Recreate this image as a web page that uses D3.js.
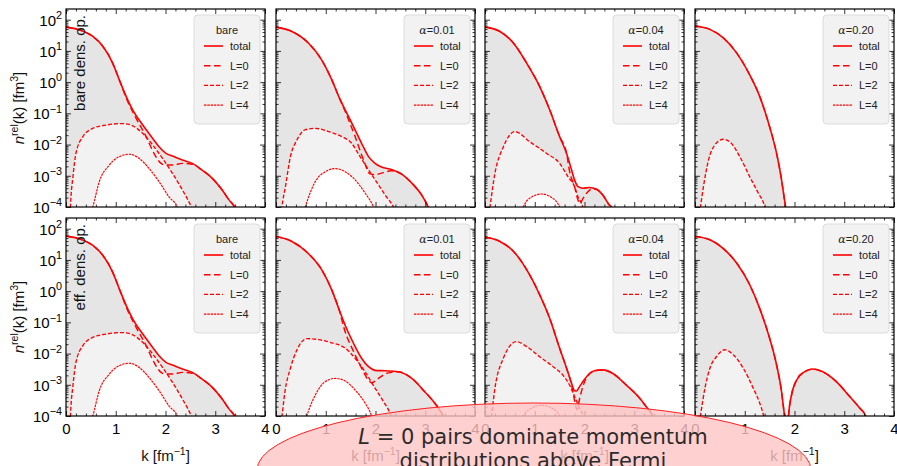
<!DOCTYPE html>
<html>
<head>
<meta charset="utf-8">
<script src="https://cdn.jsdelivr.net/npm/d3@7"></script>
<style>
  html, body { margin: 0; padding: 0; background: #fff; }
  svg { display: block; font-family: "Liberation Sans", Arial, Helvetica, sans-serif; }
</style>
</head>
<body>
<svg id="chart" width="897" height="466"></svg>
<script>
// ---- axis / label content -------------------------------------------------
const kTicks = [0, 1, 2, 3, 4];
const kMinor = d3.range(0, 4.001, 0.2);
const decadeExps = [-4, -3, -2, -1, 0, 1, 2];
const alphaValues = ["0.01", "0.04", "0.20"];
const seriesLabels = ["total", "L=0", "L=2", "L=4"];
const rowTags = ["bare dens. op.", "eff. dens. op."];
const note = ["= 0 pairs dominate momentum", "distributions above Fermi"];

// ---- relative-momentum distributions, [k (fm^-1), n(k) (fm^3)] ----------
// bare interaction (same in both rows)
const bareTotal = [[0,58],[0.27,47],[0.54,29],[0.74,14],[0.94,4.0],[1.07,1.2],[1.24,0.27],[1.34,0.13],[1.54,0.043],[1.74,0.016],[1.87,0.0085],[2.01,0.0052],[2.14,0.0043],[2.34,0.0032],[2.54,0.0025],[2.74,0.0015],[2.94,0.00083],[3.14,0.00035],[3.28,0.000166],[3.38,0.000107],[3.45,0.00006]];
const bareL0 = [[0,58],[0.27,47],[0.54,29],[0.74,14],[0.94,4.0],[1.07,1.2],[1.24,0.24],[1.41,0.069],[1.61,0.018],[1.77,0.0052],[1.91,0.0025],[2.01,0.0022],[2.14,0.0022],[2.34,0.0025],[2.51,0.0024],[2.74,0.0015],[2.94,0.00083],[3.14,0.00035],[3.28,0.000166],[3.38,0.000107],[3.45,0.00006]];
const bareL2 = [[0.085,0.00006],[0.09,0.0001],[0.14,0.00093],[0.20,0.0052],[0.34,0.018],[0.54,0.033],[0.80,0.042],[1.14,0.047],[1.34,0.040],[1.54,0.023],[1.74,0.0098],[1.94,0.0036],[2.14,0.0012],[2.34,0.00035],[2.52,0.0001],[2.58,0.00006]];
const bareL4 = [[0.50,0.00006],[0.54,0.0001],[0.67,0.00065],[0.87,0.0022],[1.07,0.0041],[1.27,0.0049],[1.47,0.0036],[1.67,0.0017],[1.87,0.00065],[2.07,0.00021],[2.24,0.0001],[2.28,0.00007]];

// evolved interaction, bare density operator
const a01Total = [[0,58],[0.32,42],[0.65,18],[0.92,5.1],[1.12,1.2],[1.26,0.35],[1.39,0.13],[1.56,0.037],[1.72,0.011],[1.86,0.0041],[1.99,0.0025],[2.12,0.0019],[2.32,0.0016],[2.52,0.00115],[2.73,0.00058],[2.93,0.00024],[3.06,0.0001],[3.12,0.00006]];
const a01L0 = [[0,58],[0.32,42],[0.65,18],[0.92,5.1],[1.12,1.2],[1.26,0.35],[1.42,0.089],[1.59,0.018],[1.76,0.0032],[1.89,0.00115],[1.99,0.0011],[2.16,0.00126],[2.32,0.00145],[2.52,0.00115],[2.73,0.00058],[2.93,0.00024],[3.06,0.0001],[3.12,0.00006]];
const a01L2 = [[0.10,0.00005],[0.12,0.0001],[0.19,0.00045],[0.29,0.0041],[0.42,0.014],[0.59,0.030],[0.79,0.033],[1.06,0.026],[1.32,0.018],[1.52,0.011],[1.69,0.0041],[1.86,0.00155],[2.06,0.00051],[2.22,0.00021],[2.36,0.0001],[2.40,0.00007]];
const a01L4 = [[0.55,0.00006],[0.59,0.0001],[0.79,0.00065],[0.99,0.00135],[1.19,0.0017],[1.39,0.00135],[1.59,0.00074],[1.79,0.00028],[1.96,0.0001],[2.00,0.00007]];

const a04Total = [[0,58],[0.30,42],[0.57,18],[0.84,4.0],[1.10,0.72],[1.30,0.13],[1.50,0.018],[1.64,0.0052],[1.74,0.00155],[1.80,0.00074],[1.87,0.00045],[1.97,0.0004],[2.10,0.00042],[2.24,0.00037],[2.37,0.00024],[2.50,0.000115],[2.54,0.0001],[2.58,0.00006]];
const a04L0 = [[0,58],[0.30,42],[0.57,18],[0.84,4.0],[1.10,0.72],[1.30,0.13],[1.50,0.018],[1.64,0.0052],[1.70,0.0014],[1.80,0.00045],[1.87,0.000166],[1.91,0.00013],[1.97,0.00019],[2.07,0.00031],[2.15,0.00038],[2.24,0.00037],[2.37,0.00024],[2.50,0.000115],[2.54,0.0001],[2.58,0.00006]];
const a04L2 = [[0.08,0.00006],[0.10,0.0001],[0.20,0.0012],[0.37,0.0085],[0.60,0.026],[0.90,0.0123],[1.24,0.0052],[1.50,0.0025],[1.67,0.00093],[1.80,0.00045],[1.87,0.00021],[1.94,0.00013],[1.98,0.00008]];
const a04L4 = [[0.74,0.00006],[0.77,0.0001],[0.94,0.00021],[1.14,0.00026],[1.34,0.0002],[1.50,0.0001],[1.53,0.00006]];

const a20Total = [[0,63],[0.30,49],[0.57,26],[0.84,8.5],[1.10,1.7],[1.30,0.35],[1.50,0.037],[1.64,0.0052],[1.74,0.00074],[1.79,0.00021],[1.82,0.0001],[1.84,0.00005]];
const a20L0 = [[0,63],[0.30,49],[0.57,26],[0.84,8.5],[1.10,1.7],[1.30,0.35],[1.50,0.037],[1.64,0.0052],[1.74,0.00074],[1.79,0.00021],[1.82,0.0001],[1.84,0.00005]];
const a20L2 = [[0.09,0.00006],[0.11,0.0001],[0.17,0.00045],[0.27,0.0031],[0.40,0.0098],[0.57,0.0148],[0.73,0.011],[0.90,0.0041],[1.10,0.00093],[1.27,0.00028],[1.40,0.0001],[1.43,0.00006]];
const a20L4 = [];

// evolved interaction, consistently evolved density operator
const effA01Total = [[0,56],[0.32,39],[0.65,16],[0.92,4.8],[1.12,1.1],[1.26,0.28],[1.39,0.081],[1.56,0.021],[1.72,0.0071],[1.86,0.0038],[1.99,0.0029],[2.19,0.0028],[2.46,0.0026],[2.73,0.0016],[2.99,0.0006],[3.19,0.00026],[3.29,0.000155],[3.36,0.0001],[3.42,0.00006]];
const effA01L0 = [[0,56],[0.32,39],[0.65,16],[0.92,4.8],[1.12,1.1],[1.26,0.28],[1.39,0.05],[1.56,0.0115],[1.72,0.0034],[1.86,0.0014],[1.92,0.00117],[2.06,0.0016],[2.19,0.0022],[2.32,0.0025],[2.46,0.0026],[2.73,0.0016],[2.99,0.0006],[3.19,0.00026],[3.29,0.000155],[3.36,0.0001],[3.42,0.00006]];
const effA01L2 = [[0.10,0.00006],[0.12,0.0001],[0.18,0.0006],[0.29,0.0034],[0.42,0.013],[0.62,0.030],[0.86,0.028],[1.12,0.022],[1.39,0.015],[1.59,0.0071],[1.79,0.0026],[1.99,0.00078],[2.16,0.00029],[2.31,0.0001],[2.35,0.00006]];
const effA01L4 = [[0.58,0.00006],[0.62,0.0001],[0.79,0.00047],[0.99,0.00126],[1.19,0.0016],[1.39,0.00132],[1.59,0.00068],[1.79,0.00026],[1.92,0.0001],[1.96,0.00006]];

const effA04Total = [[0,54],[0.30,39],[0.57,19],[0.84,4.8],[1.10,0.76],[1.30,0.135],[1.50,0.0148],[1.64,0.0034],[1.74,0.00112],[1.79,0.00068],[1.84,0.00063],[1.90,0.00087],[2.04,0.0018],[2.20,0.0028],[2.37,0.0030],[2.57,0.0023],[2.84,0.00098],[3.11,0.00037],[3.24,0.0002],[3.36,0.000107],[3.42,0.00006]];
const effA04L0 = [[0,54],[0.30,39],[0.57,19],[0.84,4.8],[1.10,0.76],[1.30,0.135],[1.50,0.0148],[1.64,0.0034],[1.74,0.001],[1.80,0.00032],[1.85,0.00016],[1.90,0.00035],[1.97,0.0009],[2.04,0.0017],[2.20,0.0028],[2.37,0.0030],[2.57,0.0023],[2.84,0.00098],[3.11,0.00037],[3.24,0.0002],[3.36,0.000107],[3.42,0.00006]];
const effA04L2 = [[0.11,0.00006],[0.13,0.0001],[0.20,0.00078],[0.37,0.0071],[0.63,0.024],[0.84,0.0166],[1.10,0.0079],[1.37,0.0038],[1.57,0.002],[1.70,0.00098],[1.80,0.00042],[1.90,0.00018],[1.97,0.0001],[2.00,0.00006]];
const effA04L4 = [[0.74,0.00006],[0.77,0.0001],[0.94,0.00018],[1.14,0.00022],[1.34,0.00018],[1.50,0.0001],[1.53,0.00006]];

const effA20Total = [[0,56],[0.30,44],[0.57,23],[0.84,7.8],[1.10,1.6],[1.30,0.28],[1.50,0.031],[1.64,0.0043],[1.74,0.0006],[1.78,0.00018],[1.80,0.0001],[1.83,0.00002],[1.85,0.0000001],[1.86,0.00002],[1.88,0.0001],[1.94,0.00047],[2.04,0.0014],[2.20,0.0026],[2.37,0.0032],[2.57,0.0026],[2.84,0.00126],[3.11,0.00042],[3.31,0.00018],[3.43,0.0001],[3.47,0.00006]];
const effA20L0 = [[0,56],[0.30,44],[0.57,23],[0.84,7.8],[1.10,1.6],[1.30,0.28],[1.50,0.031],[1.64,0.0043],[1.74,0.0006],[1.78,0.00018],[1.80,0.0001],[1.83,0.00002],[1.85,0.0000001],[1.86,0.00002],[1.88,0.0001],[1.94,0.00047],[2.04,0.0014],[2.20,0.0026],[2.37,0.0032],[2.57,0.0026],[2.84,0.00126],[3.11,0.00042],[3.31,0.00018],[3.43,0.0001],[3.47,0.00006]];
const effA20L2 = [[0.09,0.00006],[0.11,0.0001],[0.20,0.00078],[0.30,0.0034],[0.43,0.0079],[0.60,0.0132],[0.77,0.0091],[0.97,0.0034],[1.17,0.00078],[1.30,0.00026],[1.38,0.0001],[1.41,0.00006]];
const effA20L4 = [];

// ---- panel table ------------------------------------------------------------
const panels = [
  { row: 0, col: 0, alpha: null, series: [bareTotal, bareL0, bareL2, bareL4] },
  { row: 0, col: 1, alpha: alphaValues[0], series: [a01Total, a01L0, a01L2, a01L4] },
  { row: 0, col: 2, alpha: alphaValues[1], series: [a04Total, a04L0, a04L2, a04L4] },
  { row: 0, col: 3, alpha: alphaValues[2], series: [a20Total, a20L0, a20L2, a20L4] },
  { row: 1, col: 0, alpha: null, series: [bareTotal, bareL0, bareL2, bareL4] },
  { row: 1, col: 1, alpha: alphaValues[0], series: [effA01Total, effA01L0, effA01L2, effA01L4] },
  { row: 1, col: 2, alpha: alphaValues[1], series: [effA04Total, effA04L0, effA04L2, effA04L4] },
  { row: 1, col: 3, alpha: alphaValues[2], series: [effA20Total, effA20L0, effA20L2, effA20L4] }
];

// ---- layout & styles ---------------------------------------------------------
const PW = 199, PH = 198;
const colLeft = [66, 276, 485, 695];
const rowTop = [9, 218];
const RED = "#ff0000";
const FS = 15;
const lineStyle = [
  { w: 1.6, dash: null },
  { w: 1.45, dash: "6.5,3.5" },
  { w: 1.35, dash: "4,2" },
  { w: 1.15, dash: "2.4,0.9" }
];
const FILL_TOTAL = "#e5e5e5", FILL_L2 = "#f2f2f2";

const svg = d3.select("#chart");
const defs = svg.append("defs");

function supLabel(sel, base, exp, size) {
  sel.append("tspan").text(base);
  sel.append("tspan").attr("dy", -size * 0.45).attr("font-size", size * 0.72).text(exp);
}

panels.forEach(p => {
  const left = colLeft[p.col], top = rowTop[p.row];
  const right = left + PW, bottom = top + PH;
  const x = d3.scaleLinear().domain([0, 4]).range([left, right]);
  const y = d3.scaleLog().domain([1e-4, 2.2e2]).range([bottom, top]);
  const clipId = `clip-${p.row}-${p.col}`;
  defs.append("clipPath").attr("id", clipId)
    .append("rect").attr("x", left).attr("y", top).attr("width", PW).attr("height", PH);

  const g = svg.append("g");
  const plot = g.append("g").attr("clip-path", `url(#${clipId})`);
  const area = d3.area().x(d => x(d[0])).y0(bottom + 6).y1(d => y(d[1])).curve(d3.curveMonotoneX);
  const line = d3.line().x(d => x(d[0])).y(d => y(d[1])).curve(d3.curveMonotoneX);

  const [tot, l0, l2, l4] = p.series;
  plot.append("path").attr("d", area(tot)).attr("fill", FILL_TOTAL);
  if (l2.length) plot.append("path").attr("d", area(l2)).attr("fill", FILL_L2);
  if (l4.length) plot.append("path").attr("d", area(l4)).attr("fill", "#fff");

  p.series.forEach((s, i) => {
    if (!s.length) return;
    plot.append("path").attr("d", line(s)).attr("fill", "none")
      .attr("stroke", RED).attr("stroke-width", lineStyle[i].w)
      .attr("stroke-dasharray", lineStyle[i].dash);
  });

  // inward ticks on all four sides
  const majorY = decadeExps.map(e => Math.pow(10, e));
  const minorY = [];
  decadeExps.forEach(e => { for (let m = 2; m <= 9; m++) { const v = m * Math.pow(10, e); if (v <= 2.2e2) minorY.push(v); } });
  const minorX = kMinor.filter(v => !kTicks.some(t => Math.abs(t - v) < 1e-6));

  const axes = g.append("g").attr("stroke-width", 0.8);
  const tick = (axis, tr, vals, len, fmt) => {
    const a = axes.append("g").attr("transform", tr)
      .call(axis.tickValues(vals).tickSizeInner(-len).tickSizeOuter(0).tickPadding(5).tickFormat(fmt || (() => "")));
    a.select(".domain").remove();
    a.attr("font-family", null).attr("font-size", FS);
    a.selectAll(".tick line").attr("stroke", "#000");
    return a;
  };
  tick(d3.axisLeft(y), `translate(${left},0)`, minorY, 2.5);
  tick(d3.axisRight(y), `translate(${right},0)`, minorY, 2.5);
  tick(d3.axisRight(y), `translate(${right},0)`, majorY, 5);
  tick(d3.axisTop(x), `translate(0,${top})`, minorX, 2.5);
  tick(d3.axisTop(x), `translate(0,${top})`, kTicks, 5);
  tick(d3.axisBottom(x), `translate(0,${bottom})`, minorX, 2.5);
  const xa = tick(d3.axisBottom(x), `translate(0,${bottom})`, kTicks, 5,
    p.row === 1 ? d3.format("d") : () => "");
  xa.selectAll(".tick text").attr("fill", "#000").attr("y", 7);
  const ya = tick(d3.axisLeft(y), `translate(${left},0)`, majorY, 5, () => "");
  if (p.col === 0) {
    ya.selectAll(".tick text").attr("fill", "#000").attr("x", -4).attr("dy", "0.36em")
      .each(function (d) {
        const t = d3.select(this);
        const e = Math.round(Math.log10(d));
        supLabel(t, "10", e < 0 ? "\u2212" + (-e) : String(e), FS);
      });
  }

  // frame
  g.append("rect").attr("x", left).attr("y", top).attr("width", PW).attr("height", PH)
    .attr("fill", "none").attr("stroke", "#000").attr("stroke-width", 1.2);

  // legend
  const lw = 66, lh = 109;
  const lg = g.append("g").attr("transform", `translate(${right - 5 - lw},${top + 6})`);
  lg.append("rect").attr("width", lw).attr("height", lh).attr("rx", 4)
    .attr("fill", "#f2f2f2").attr("stroke", "#dcdcdc").attr("stroke-width", 1);
  const title = lg.append("text").attr("x", lw / 2).attr("y", 19).attr("text-anchor", "middle")
    .attr("font-size", 11).attr("fill", "#222");
  if (p.alpha === null) {
    title.text("bare");
  } else {
    title.append("tspan").attr("font-family", "DejaVu Serif").attr("font-style", "italic").text("\u03b1");
    title.append("tspan").text("=" + p.alpha);
  }
  seriesLabels.forEach((lab, i) => {
    const cy = 31 + i * 19.7;
    lg.append("line").attr("x1", 10).attr("x2", 29).attr("y1", cy).attr("y2", cy)
      .attr("stroke", RED).attr("stroke-width", lineStyle[i].w)
      .attr("stroke-dasharray", lineStyle[i].dash);
    lg.append("text").attr("x", 36).attr("y", cy + 4).attr("font-size", 11)
      .attr("fill", "#222").text(lab);
  });

  // row tag inside the first column
  if (p.col === 0) {
    g.append("text").attr("transform", `translate(${left + 19},${top + 6}) rotate(-90)`)
      .attr("text-anchor", "end").attr("font-size", FS).attr("fill", "#111")
      .text(rowTags[p.row]);
    // y-axis title
    const yl = g.append("text").attr("transform", `translate(24,${top + PH / 2}) rotate(-90)`)
      .attr("text-anchor", "middle").attr("font-size", FS).attr("fill", "#111");
    yl.append("tspan").attr("font-style", "italic").text("n");
    yl.append("tspan").attr("dy", -6).attr("font-size", 10.5).text("rel");
    yl.append("tspan").attr("dy", 6).text("(k) [fm");
    yl.append("tspan").attr("dy", -6).attr("font-size", 10.5).text("3");
    yl.append("tspan").attr("dy", 6).text("]");
  }

  // x-axis title on the bottom row
  if (p.row === 1) {
    const xl = g.append("text").attr("x", (left + right) / 2).attr("y", 461)
      .attr("text-anchor", "middle").attr("font-size", FS).attr("fill", "#111");
    xl.append("tspan").text("k [fm");
    xl.append("tspan").attr("dy", -6).attr("font-size", 10.5).text("\u22121");
    xl.append("tspan").attr("dy", 6).text("]");
  }
});

// ---- callout -----------------------------------------------------------------
const callout = svg.append("g");
callout.append("ellipse").attr("cx", 534).attr("cy", 470).attr("rx", 277).attr("ry", 67)
  .attr("fill", "#ffc4c4").attr("fill-opacity", 0.8)
  .attr("stroke", "#ff2020").attr("stroke-width", 1);
const ct = callout.append("text").attr("text-anchor", "middle")
  .attr("font-family", "DejaVu Sans").attr("font-size", 21).attr("fill", "#2b2b2b");
const l1 = ct.append("tspan").attr("x", 533).attr("y", 444);
l1.append("tspan").attr("font-style", "italic").text("L");
l1.append("tspan").text(" " + note[0]);
ct.append("tspan").attr("x", 533).attr("y", 468).text(note[1]);
</script>
</body>
</html>
